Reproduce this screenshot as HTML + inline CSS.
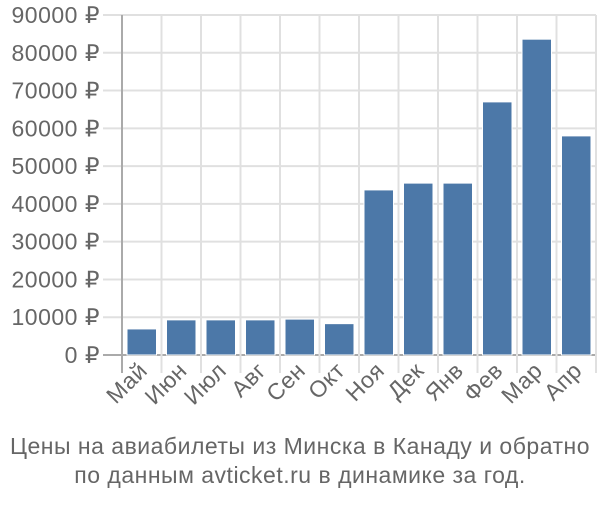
<!DOCTYPE html>
<html><head><meta charset="utf-8"><style>
body{margin:0;background:#fff;}
svg text{font-family:"Liberation Sans",sans-serif;fill:#666;letter-spacing:0.5px;}
</style></head><body>
<svg id="c" width="600" height="500"></svg>
<script>
const categories=["Май","Июн","Июл","Авг","Сен","Окт","Ноя","Дек","Янв","Фев","Мар","Апр"];
const values=[6900,9300,9300,9300,9500,8300,43700,45500,45500,67000,83600,58000];
const ticks=[0,10000,20000,30000,40000,50000,60000,70000,80000,90000];
const NS="http://www.w3.org/2000/svg";
const svg=document.getElementById('c');
const x0=122,x1=596,y0=355,y1=15,ymax=90000;
const bw=(x1-x0)/categories.length;
const Y=v=>y0-(v/ymax)*(y0-y1);
const X=i=>x0+i*bw;
function mk(t,a){const e=document.createElementNS(NS,t);for(const k in a)e.setAttribute(k,a[k]);svg.appendChild(e);return e;}
ticks.forEach(t=>{
 const l=mk('line',{x1:103,x2:x1,y1:Y(t),y2:Y(t),stroke:t===0?'#aaa':'#e0e0e0','stroke-width':2});
 
 
 const tx=mk('text',{x:100,y:Y(t)+8,'text-anchor':'end','font-size':23});
 tx.textContent=t+" ₽";
 
 
});
for(let i=1;i<=categories.length;i++){
 const l=mk('line',{x1:X(i),x2:X(i),y1:y1,y2:373,stroke:'#e0e0e0','stroke-width':2});
 
 
}
const ax=mk('line',{x1:x0,x2:x0,y1:y1,y2:373,stroke:'#aaa','stroke-width':2});


categories.forEach((c,i)=>{
 const r=mk('rect',{x:X(i)+5,y:Y(values[i]),width:bw-10,height:y0-Y(values[i]),fill:'#4c78a8',stroke:'#fff','stroke-width':1});
 
 
 const cx=X(i)+bw/2+7, cy=372;
 const t=mk('text',{x:cx,y:cy,'text-anchor':'end','font-size':23,transform:`rotate(-45 ${cx} ${cy})`});
 t.textContent=c;
 
 
});
const t1=mk('text',{x:300,y:454,'text-anchor':'middle','font-size':23});
t1.textContent="Цены на авиабилеты из Минска в Канаду и обратно";


const t2=mk('text',{x:300,y:483,'text-anchor':'middle','font-size':23});
t2.textContent="по данным avticket.ru в динамике за год.";


</script>
</body></html>
